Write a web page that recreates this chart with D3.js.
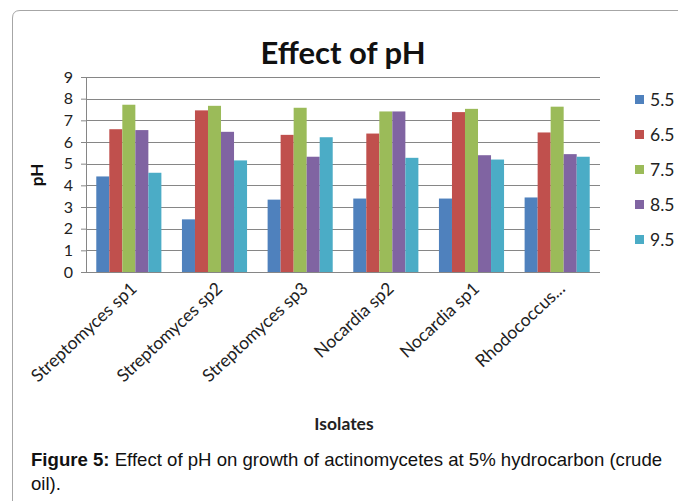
<!DOCTYPE html>
<html>
<head>
<meta charset="utf-8">
<script src="https://cdn.jsdelivr.net/npm/d3@7"></script>
<style>
  html, body { margin: 0; padding: 0; background: #fff; }
  svg { display: block; }
</style>
</head>
<body>
<svg id="chart" width="678" height="501"></svg>
<script>
// data
const isolates = ["Streptomyces sp1", "Streptomyces sp2", "Streptomyces sp3", "Nocardia sp2", "Nocardia sp1", "Rhodococcus..."];
const phLevels = ["5.5", "6.5", "7.5", "8.5", "9.5"];
const ph55 = [4.41, 2.43, 3.34, 3.39, 3.39, 3.44];
const ph65 = [6.59, 7.46, 6.33, 6.39, 7.38, 6.44];
const ph75 = [7.72, 7.67, 7.58, 7.41, 7.53, 7.63];
const ph85 = [6.55, 6.47, 5.32, 7.41, 5.39, 5.44];
const ph95 = [4.58, 5.15, 6.22, 5.27, 5.19, 5.32];
const yTicks = [0, 1, 2, 3, 4, 5, 6, 7, 8, 9];
const colors = ["#4F81BD", "#C0504D", "#9BBB59", "#8064A2", "#4BACC6"];

const series = [ph55, ph65, ph75, ph85, ph95];
const rows = isolates.map((name, i) => ({
  name,
  vals: phLevels.map((p, j) => ({ key: p, value: series[j][i] }))
}));

const svg = d3.select("#chart");
const font = "Lato, 'Open Sans', sans-serif";

const plot = { left: 86, right: 600, top: 77, bottom: 272 };

// chart frame (rounded corner at top left, runs off the page)
svg.append("path")
  .attr("d", "M12.5,501 L12.5,18 Q12.5,10.5 20,10.5 L678,10.5")
  .attr("fill", "none")
  .attr("stroke", "#a6a6a6")
  .attr("stroke-width", 1);

const x0 = d3.scaleBand().domain(isolates).range([plot.left, plot.right]).paddingInner(0.24).paddingOuter(0.12);
const x1 = d3.scaleBand().domain(phLevels).range([0, x0.bandwidth()]);
const y = d3.scaleLinear().domain([0, 9]).range([plot.bottom, plot.top]);

// gridlines + y axis
const yAxis = svg.append("g")
  .attr("transform", `translate(${plot.left},0)`)
  .call(d3.axisLeft(y).tickValues(yTicks).tickSize(5).tickFormat(d3.format("d")));
yAxis.select(".domain").remove();
yAxis.selectAll(".tick line").attr("stroke", "#868686");
yAxis.selectAll(".tick text")
  .attr("x", -13)
  .attr("font-family", font)
  .attr("font-size", 16)
  .attr("fill", "#222");

svg.append("g")
  .selectAll("line")
  .data(yTicks)
  .join("line")
  .attr("x1", plot.left).attr("x2", plot.right)
  .attr("y1", d => Math.round(y(d)) + 0.5).attr("y2", d => Math.round(y(d)) + 0.5)
  .attr("stroke", "#868686")
  .attr("stroke-width", 1);

svg.append("line")
  .attr("x1", plot.left + 0.5).attr("x2", plot.left + 0.5)
  .attr("y1", plot.top).attr("y2", plot.bottom)
  .attr("stroke", "#868686");

// bars
svg.append("g")
  .selectAll("g")
  .data(rows)
  .join("g")
  .attr("transform", d => `translate(${x0(d.name)},0)`)
  .selectAll("rect")
  .data(d => d.vals)
  .join("rect")
  .attr("x", d => x1(d.key))
  .attr("width", x1.bandwidth())
  .attr("y", d => y(d.value))
  .attr("height", d => y(0) - y(d.value))
  .attr("fill", (d, i) => colors[i]);

// x labels, rotated
svg.append("g")
  .selectAll("text")
  .data(isolates)
  .join("text")
  .attr("transform", d => `translate(${x0(d) + x0.bandwidth() / 2 + 9},${plot.bottom + 18}) rotate(-43)`)
  .attr("text-anchor", "end")
  .attr("font-family", font)
  .attr("font-size", 17.5)
  .attr("fill", "#222")
  .text(d => d);

// title
svg.append("text")
  .attr("x", 343).attr("y", 64)
  .attr("text-anchor", "middle")
  .attr("font-family", font)
  .attr("font-weight", "bold")
  .attr("font-size", 31)
  .attr("fill", "#111")
  .text("Effect of pH");

// axis titles
svg.append("text")
  .attr("transform", "translate(43,175) rotate(-90)")
  .attr("text-anchor", "middle")
  .attr("font-family", font)
  .attr("font-weight", "bold")
  .attr("font-size", 17)
  .attr("fill", "#111")
  .text("pH");

svg.append("text")
  .attr("x", 344).attr("y", 430)
  .attr("text-anchor", "middle")
  .attr("font-family", font)
  .attr("font-weight", "bold")
  .attr("font-size", 17.5)
  .attr("fill", "#222")
  .text("Isolates");

// legend
const legend = svg.append("g")
  .selectAll("g")
  .data(phLevels)
  .join("g")
  .attr("transform", (d, i) => `translate(635,${100 + i * 35})`);
legend.append("rect")
  .attr("x", 0).attr("y", -5)
  .attr("width", 9).attr("height", 9)
  .attr("fill", (d, i) => colors[i]);
legend.append("text")
  .attr("x", 15).attr("y", 6)
  .attr("font-family", font)
  .attr("font-size", 17.5)
  .attr("fill", "#222")
  .text(d => d);

// caption
const cap = svg.append("text")
  .attr("x", 31).attr("y", 466)
  .attr("font-family", "'Liberation Sans', Arial, sans-serif")
  .attr("font-size", 18.6)
  .attr("fill", "#111");
cap.append("tspan").attr("font-weight", "bold").text("Figure 5:");
cap.append("tspan").text(" Effect of pH on growth of actinomycetes at 5% hydrocarbon (crude");
svg.append("text")
  .attr("x", 31).attr("y", 490)
  .attr("font-family", "'Liberation Sans', Arial, sans-serif")
  .attr("font-size", 18.6)
  .attr("fill", "#111")
  .text("oil).");
</script>
</body>
</html>
